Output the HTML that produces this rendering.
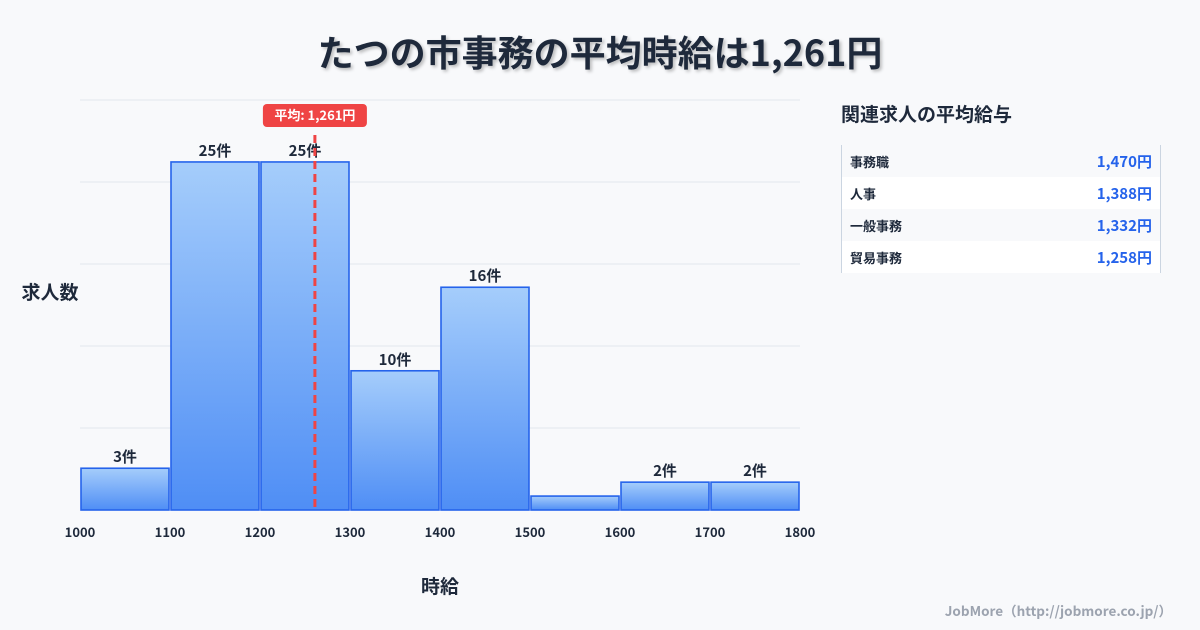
<!DOCTYPE html>
<html><head><meta charset="utf-8">
<style>
body{margin:0;width:1200px;height:630px;background:#f8f9fb;font-family:"Noto Sans CJK JP","Liberation Sans",sans-serif;overflow:hidden;position:relative;color:#1e293b}
.title{position:absolute;top:26px;left:0;width:1200px;text-align:center;font-size:36px;font-weight:bold;color:#1e293b;text-shadow:2px 2px 3px rgba(0,0,0,.25);line-height:50px}
.side-title{position:absolute;left:841px;top:100px;font-size:19px;font-weight:bold;line-height:28px}
.tbl{position:absolute;left:841px;top:145px;width:318px;border-left:1px solid #cbd5e1;border-right:1px solid #cbd5e1}
.row{height:32px;display:flex;justify-content:space-between;align-items:center;padding:0 8px;font-size:13px;font-weight:bold}
.row:nth-child(even){background:#fff}
.row .v{color:#2563eb;font-size:15px}
.foot{position:absolute;right:28px;top:600px;font-size:13.5px;color:#9ca3af;font-weight:bold;line-height:20px}
</style></head><body>
<div class="title">たつの市事務の平均時給は1,261円</div>
<svg id="chart" width="820" height="630" style="position:absolute;left:0;top:0"></svg>
<div class="side-title">関連求人の平均給与</div>
<div class="tbl">
<div class="row"><span>事務職</span><span class="v">1,470円</span></div>
<div class="row"><span>人事</span><span class="v">1,388円</span></div>
<div class="row"><span>一般事務</span><span class="v">1,332円</span></div>
<div class="row"><span>貿易事務</span><span class="v">1,258円</span></div>
</div>
<div class="foot">JobMore（http://jobmore.co.jp/）</div>
<script>
const binStarts=[1000,1100,1200,1300,1400,1500,1600,1700];
const counts=[3,25,25,10,16,1,2,2];
const xTicks=[1000,1100,1200,1300,1400,1500,1600,1700,1800];
const meanValue=1261;
const yMax=29.45;
const NS="http://www.w3.org/2000/svg";
const svg=document.getElementById('chart');
const x=v=>80+(v-1000)*0.9;
const y=v=>510-v*(410/yMax);
function mk(t,a,txt){const e=document.createElementNS(NS,t);for(const k in a)e.setAttribute(k,a[k]);if(txt!==undefined)e.textContent=txt;svg.appendChild(e);return e;}
const defs=mk('defs',{});
defs.innerHTML='<linearGradient id="g" x1="0" y1="0" x2="0" y2="1"><stop offset="0" stop-color="#a5cdfb"/><stop offset="1" stop-color="#4f8ef5"/></linearGradient>';
for(let i=0;i<5;i++){const gy=510-i*82-82;const l=mk('line',{x1:80,x2:800,y1:gy,y2:gy,stroke:'#e2e6ec','stroke-width':1});

}
binStarts.forEach((b,i)=>{
 const r=mk('rect',{x:x(b)+1,y:y(counts[i]),width:x(b+100)-x(b)-2,height:510-y(counts[i]),fill:'url(#g)',stroke:'#2563eb','stroke-width':1.6});
 
 
 if(counts[i]>1){const t=mk('text',{x:x(b+50),y:y(counts[i])-6,'text-anchor':'middle','font-size':15,'font-weight':'bold',fill:'#1e293b'},counts[i]+'件');
 
 }
});
xTicks.forEach(v=>{const t=mk('text',{x:x(v),y:537,'text-anchor':'middle','font-size':13,'font-weight':'bold',fill:'#1e293b'},v);

});
const ml=mk('line',{x1:x(meanValue),x2:x(meanValue),y1:135,y2:510,stroke:'#ef4444','stroke-width':3,'stroke-dasharray':'8,5'});


const mb=mk('rect',{x:x(meanValue)-52,y:104,width:104,height:23,rx:4,fill:'#ef4444'});


const mt=mk('text',{x:x(meanValue),y:120,'text-anchor':'middle','font-size':13,'font-weight':'bold',fill:'#fff'},'平均: 1,261円');


const yt=mk('text',{x:50,y:299,'text-anchor':'middle','font-size':19,'font-weight':'bold',fill:'#1e293b'},'求人数');


const xt=mk('text',{x:440,y:593,'text-anchor':'middle','font-size':19,'font-weight':'bold',fill:'#1e293b'},'時給');


</script>
</body></html>
